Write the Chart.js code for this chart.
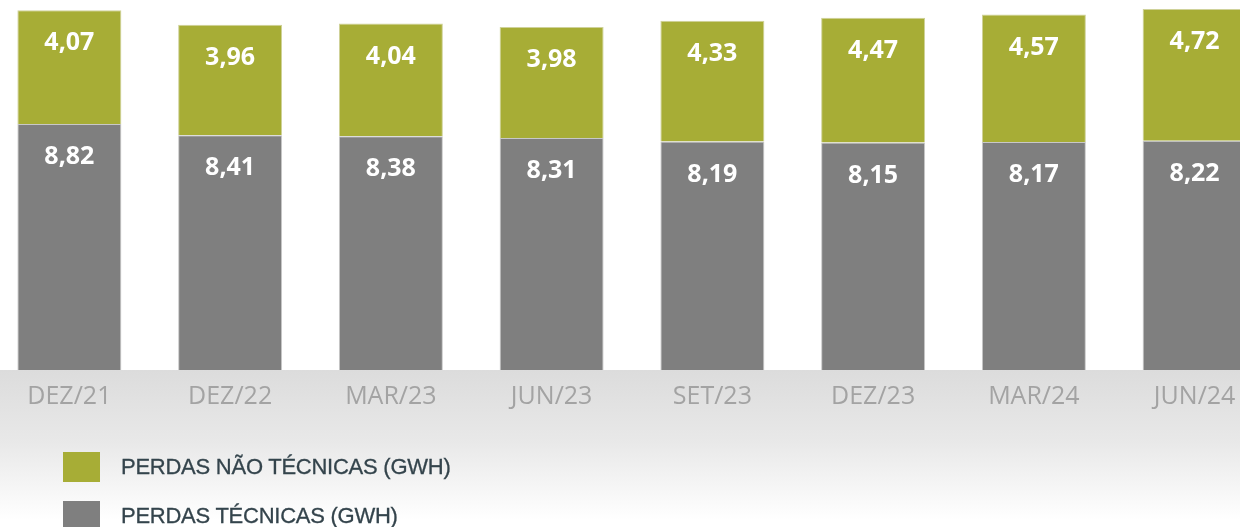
<!DOCTYPE html>
<html>
<head>
<meta charset="utf-8">
<script src="https://cdn.jsdelivr.net/npm/chart.js@4"></script>
<style>
    html, body { margin: 0; padding: 0; width: 1240px; height: 527px; overflow: hidden; }
    body {
        position: relative;
        background: linear-gradient(to bottom, #ffffff 0px, #ffffff 370px, #dcdcdc 370px, #e8e8e8 440px, #ffffff 520px);
    }
    #wrap { position: absolute; left: -11px; top: 0; width: 1286px; height: 527px; }
    .legenda { position: absolute; left: 63px; font-family: "Liberation Sans", Arial, sans-serif; font-size: 22px; color: #34444c; letter-spacing: -0.25px; }
    .legenda .cor { position: absolute; left: 0; top: 0; width: 37px; height: 30px; }
    .legenda .txt { position: absolute; left: 58px; top: 2px; white-space: nowrap; -webkit-text-stroke: 0.3px #34444c; }
</style>
</head>
<body>
<div id="wrap"><canvas id="graficoPerdas"></canvas></div>
<div class="legenda" style="top: 452px;"><div class="cor" style="background: #a7ad36;"></div><div class="txt">PERDAS NÃO TÉCNICAS (GWH)</div></div>
<div class="legenda" style="top: 501px;"><div class="cor" style="background: #7f7f7f;"></div><div class="txt">PERDAS TÉCNICAS (GWH)</div></div>
<script>
var categorias = ['DEZ/21', 'DEZ/22', 'MAR/23', 'JUN/23', 'SET/23', 'DEZ/23', 'MAR/24', 'JUN/24'];
var perdasTecnicas = [8.82, 8.41, 8.38, 8.31, 8.19, 8.15, 8.17, 8.22];
var perdasNaoTecnicas = [4.07, 3.96, 4.04, 3.98, 4.33, 4.47, 4.57, 4.72];

function formatNum(v) {
    return v.toFixed(2).replace('.', ',');
}

// rotulos brancos dentro das barras, perto do topo de cada segmento
var rotulosPlugin = {
    id: 'rotulos',
    afterDatasetsDraw: function (chart) {
        var ctx = chart.ctx;
        ctx.save();
        ctx.fillStyle = '#ffffff';
        ctx.font = 'bold 25px "Open Sans", sans-serif';
        ctx.textAlign = 'center';
        ctx.textBaseline = 'middle';
        chart.data.datasets.forEach(function (ds, i) {
            var meta = chart.getDatasetMeta(i);
            meta.data.forEach(function (bar, j) {
                ctx.fillText(formatNum(ds.data[j]), bar.x, bar.y + 33);
            });
        });
        ctx.restore();
    }
};

var ctx = document.getElementById('graficoPerdas').getContext('2d');
var chartPerdas = new Chart(ctx, {
    type: 'bar',
    data: {
        labels: categorias,
        datasets: [
            {
                label: 'PERDAS TÉCNICAS (GWH)',
                data: perdasTecnicas,
                backgroundColor: '#7f7f7f',
                borderColor: '#c8c8c8',
                borderWidth: 1,
                barPercentage: 0.647,
                categoryPercentage: 1,
            },
            {
                label: 'PERDAS NÃO TÉCNICAS (GWH)',
                data: perdasNaoTecnicas,
                backgroundColor: '#a7ad36',
                borderColor: '#cfd29a',
                borderWidth: 1,
                barPercentage: 0.647,
                categoryPercentage: 1,
            },
        ],
    },
    options: {
        responsive: true,
        maintainAspectRatio: false,
        animation: false,
        layout: { padding: 0 },
        plugins: {
            legend: { display: false },
            tooltip: { enabled: false },
        },
        scales: {
            x: {
                stacked: true,
                grid: { display: false, drawTicks: false },
                border: { display: false },
                ticks: { color: '#a3a3a3', font: { family: '"Open Sans", sans-serif', size: 25 }, padding: 12, maxRotation: 0 },
                afterFit: function (scale) { scale.height = 157; },
            },
            y: {
                stacked: true,
                display: false,
                min: 0,
                max: 13.26,
            },
        },
    },
    plugins: [rotulosPlugin],
});
</script>
</body>
</html>
